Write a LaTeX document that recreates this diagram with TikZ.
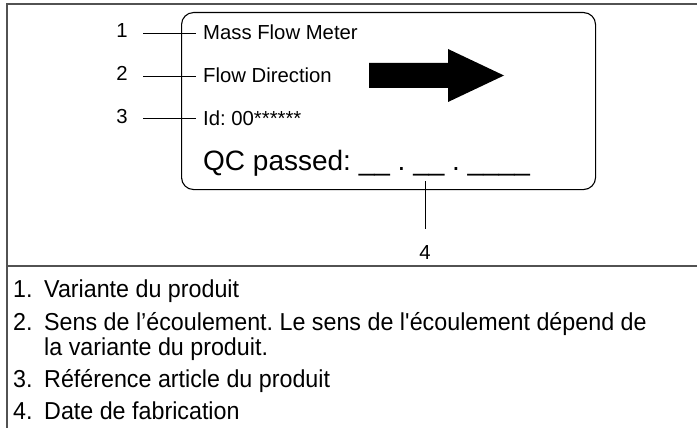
\documentclass[tikz,border=0pt]{standalone}
\usepackage{fontspec}
\setmainfont{Liberation Sans}
\newfontfamily\listfont[FakeStretch=0.95]{Liberation Sans}
\frenchspacing
\begin{document}
\begin{tikzpicture}[x=1pt,y=-1pt,
  frame/.style={draw=black!68, line width=1.5pt},
  lead/.style={draw=black, line width=0.9pt},
  lbl/.style={font=\fontsize{20.3}{22}\selectfont, inner sep=0pt, anchor=base west},
  num/.style={font=\fontsize{20.3}{22}\selectfont, inner sep=0pt, anchor=base},
  big/.style={font=\fontsize{28}{30}\selectfont, inner sep=0pt, anchor=base west},
  itemnum/.style={font=\listfont\fontsize{24.5}{25}\selectfont, inner sep=0pt, anchor=base west},
  itemtxt/.style={font=\listfont\fontsize{24.5}{25}\selectfont, inner sep=0pt, anchor=base west},
]
\useasboundingbox (0,0) rectangle (697,428);
% frame
\draw[frame] (7,428) -- (7,4) -- (697,4);
\draw[frame] (7,266) -- (697,266);
% label
\node[draw, line width=1.1pt, rounded corners=12pt, minimum width=414pt, minimum height=177pt, anchor=north west, inner sep=0pt] (plate) at (181,12) {};
\node[lbl] (t1) at (203,40) {Mass Flow Meter};
\node[lbl] (t2) at (203,83) {Flow Direction};
\node[lbl] (t3) at (203,125) {Id: 00******};
\node[big] (t4) at (203,170) {QC passed: \_\_ . \_\_ . \_\_\_\_};
% arrow
\fill[black] (369,63) -- (448,63) -- (448,49) -- (504,75.5) -- (448,102) -- (448,88) -- (369,88) -- cycle;
% callouts
\node[num] (n1) at (122,38) {1};
\node[num] (n2) at (122,81) {2};
\node[num] (n3) at (122,124) {3};
\node[num] (n4) at (425,259) {4};
\coordinate (c1) at (196,33);
\coordinate (c2) at (196,76);
\coordinate (c3) at (196,118);
\coordinate (c4) at (425,181);
\draw[lead] (143,33) -- (c1);
\draw[lead] (143,76) -- (c2);
\draw[lead] (143,118) -- (c3);
\draw[lead] (c4) -- (425,229);
% list
\node[itemnum] (l1) at (13,297) {1.};
\node[itemtxt] (m1) at (44,297) {Variante du produit};
\node[itemnum] (l2) at (13,330) {2.};
\node[itemtxt] (m2) at (44,330) {Sens de l’écoulement. Le sens de l\textquotesingle écoulement dépend de};
\node[itemtxt] (m2b) at (44,355) {la variante du produit.};
\node[itemnum] (l3) at (13,387) {3.};
\node[itemtxt] (m3) at (44,387) {Référence article du produit};
\node[itemnum] (l4) at (13,419) {4.};
\node[itemtxt] (m4) at (44,419) {Date de fabrication};
\end{tikzpicture}
\end{document}
